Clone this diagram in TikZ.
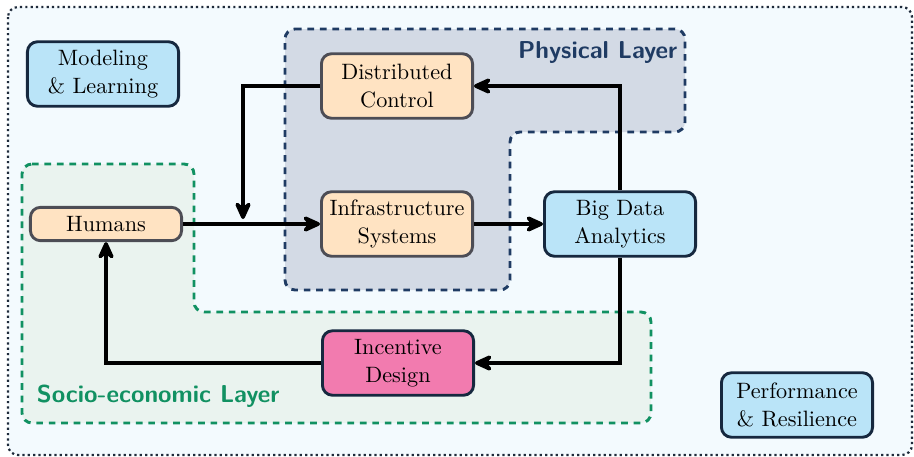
\documentclass[tikz,border=0pt]{standalone}
\usepackage{fontspec}
\usetikzlibrary{arrows.meta}
\definecolor{bgc}{HTML}{F3FAFE}
\definecolor{physfill}{HTML}{D3DAE5}
\definecolor{navy}{HTML}{1F3B63}
\definecolor{sociofill}{HTML}{EAF3EF}
\definecolor{sgreen}{HTML}{119162}
\definecolor{orfill}{HTML}{FFE3C2}
\definecolor{orline}{HTML}{4D4D55}
\definecolor{blfill}{HTML}{BAE4F8}
\definecolor{blline}{HTML}{16283F}
\definecolor{pkfill}{HTML}{F27BAF}
\definecolor{frame}{HTML}{1E2A3A}
\tikzset{
  box/.style={draw, line width=1.3pt, rounded corners=4.5pt, align=center,
    minimum width=68pt, minimum height=29pt, inner sep=2pt},
  obox/.style={box, fill=orfill, draw=orline},
  bbox/.style={box, fill=blfill, draw=blline},
  pbox/.style={box, fill=pkfill, draw=blline},
  arr/.style={line width=2.1pt, -{Stealth[length=10.5pt,width=9.5pt,inset=4pt,round]}},
  layer/.style={line width=1.3pt, dash pattern=on 3pt off 2.6pt, rounded corners=4.5pt},
  lbl/.style={font=\fontsize{11}{13}\sffamily\bfseries},
}
\begin{document}
\begin{tikzpicture}[x=0.45pt,y=-0.45pt]
\useasboundingbox (0,0) rectangle (914,457);
\draw[fill=bgc, draw=frame, line width=1pt, dash pattern=on 1pt off 1.4pt, rounded corners=4.5pt]
  (8,7) rectangle (912,455);
% socio-economic layer
\draw[layer, fill=sociofill, draw=sgreen]
  (22,164) -- (194,164) -- (194,312) -- (651,312) -- (651,423) -- (22,423) -- cycle;
% physical layer
\draw[layer, fill=physfill, draw=navy]
  (285,29) -- (685,29) -- (685,132) -- (510,132) -- (510,290) -- (285,290) -- cycle;
\node[anchor=east, text=navy, lbl] (pl) at (685,53) {Physical Layer};
\node[anchor=west, text=sgreen, lbl] (sl) at (29,396) {Socio-economic Layer};

\node[bbox] (ml) at (103,74) {Modeling\\[0.6pt]\& Learning};
\node[obox] (dc) at (397,86) {Distributed\\[0.6pt]Control};
\node[obox] (inf) at (397,224) {Infrastructure\\[0.6pt]Systems};
\node[bbox] (bda) at (620,224) {Big Data\\[0.6pt]Analytics};
\node[obox, minimum height=15pt] (hum) at (106,224) {Humans};
\node[pbox] (inc) at (398,363) {Incentive\\[0.6pt]Design};
\node[bbox] (pr) at (797,405) {Performance\\[0.6pt]\& Resilience};

\coordinate (m) at (243,219);
\draw[arr] (dc.west) -| (m);
\draw[arr] (hum.east) -- (inf.west);
\draw[arr] (inf.east) -- (bda.west);
\draw[arr] (bda.north) |- (dc.east);
\draw[arr] (bda.south) |- (inc.east);
\draw[arr] (inc.west) -| (hum.south);
\end{tikzpicture}
\end{document}
